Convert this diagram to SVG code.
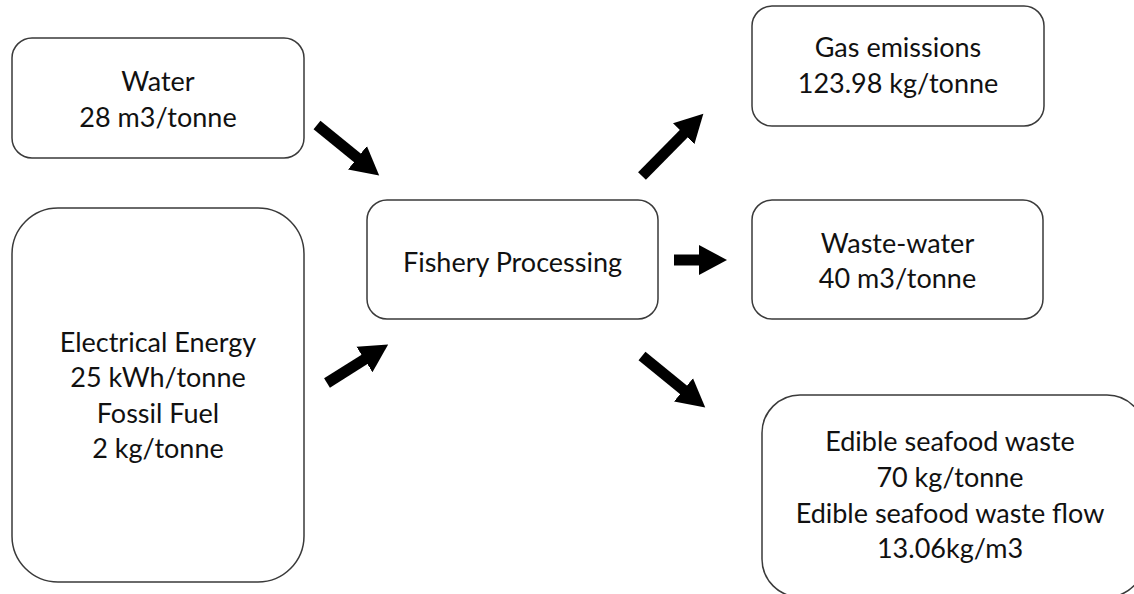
<svg xmlns="http://www.w3.org/2000/svg" width="1134" height="594" viewBox="0 0 1134 594">
  <style>
    .box { fill: #ffffff; stroke: #3a3a3a; stroke-width: 1.5; }
    .lbl { font-family: Lato, "Open Sans", "Liberation Sans", sans-serif; font-size: 27px; fill: #111111; text-anchor: middle; }
    .flow { stroke: #000000; stroke-width: 11; fill: none; marker-end: url(#head); }
  </style>
  <defs>
    <marker id="head" markerUnits="userSpaceOnUse" markerWidth="30" markerHeight="32" refX="1" refY="15.5" orient="auto" viewBox="0 0 30 31">
      <path d="M0,0.5 L28,15.5 L0,30.5 Z" fill="#000000"/>
    </marker>
  </defs>
  <rect width="1134" height="594" fill="#ffffff"/>

  <!-- inputs -->
  <g id="water">
    <rect class="box" x="12" y="38" width="292" height="120" rx="20" ry="20"/>
    <text class="lbl" x="158" y="91">Water</text>
    <text class="lbl" x="158" y="127">28 m3/tonne</text>
  </g>
  <g id="energy">
    <rect class="box" x="12" y="208" width="292" height="374" rx="46" ry="46"/>
    <text class="lbl" x="158" y="352">Electrical Energy</text>
    <text class="lbl" x="158" y="387">25 kWh/tonne</text>
    <text class="lbl" x="158" y="423">Fossil Fuel</text>
    <text class="lbl" x="158" y="458">2 kg/tonne</text>
  </g>

  <!-- process -->
  <g id="processing">
    <rect class="box" x="367" y="200" width="291" height="119" rx="20" ry="20"/>
    <text class="lbl" x="512.5" y="272">Fishery Processing</text>
  </g>

  <!-- outputs -->
  <g id="gas">
    <rect class="box" x="752" y="6" width="292" height="120" rx="20" ry="20"/>
    <text class="lbl" x="898" y="57">Gas emissions</text>
    <text class="lbl" x="898" y="93">123.98 kg/tonne</text>
  </g>
  <g id="wastewater">
    <rect class="box" x="752" y="200" width="291" height="119" rx="20" ry="20"/>
    <text class="lbl" x="897.5" y="253">Waste-water</text>
    <text class="lbl" x="897.5" y="288">40 m3/tonne</text>
  </g>
  <g id="seafood">
    <rect class="box" x="762" y="395" width="383" height="202" rx="38" ry="38"/>
    <text class="lbl" x="950" y="451">Edible seafood waste</text>
    <text class="lbl" x="950" y="487">70 kg/tonne</text>
    <text class="lbl" x="950" y="523">Edible seafood waste flow</text>
    <text class="lbl" x="950" y="558">13.06kg/m3</text>
  </g>

  <!-- block arrows -->
  <g id="connectors">
    <line class="flow" x1="317" y1="125" x2="358.2" y2="158.4"/>
    <line class="flow" x1="327" y1="383" x2="365.3" y2="358.9"/>
    <line class="flow" x1="642" y1="176" x2="684.4" y2="133"/>
    <line class="flow" x1="674" y1="260" x2="700" y2="260"/>
    <line class="flow" x1="642" y1="356" x2="684.3" y2="390.4"/>
  </g>
</svg>
